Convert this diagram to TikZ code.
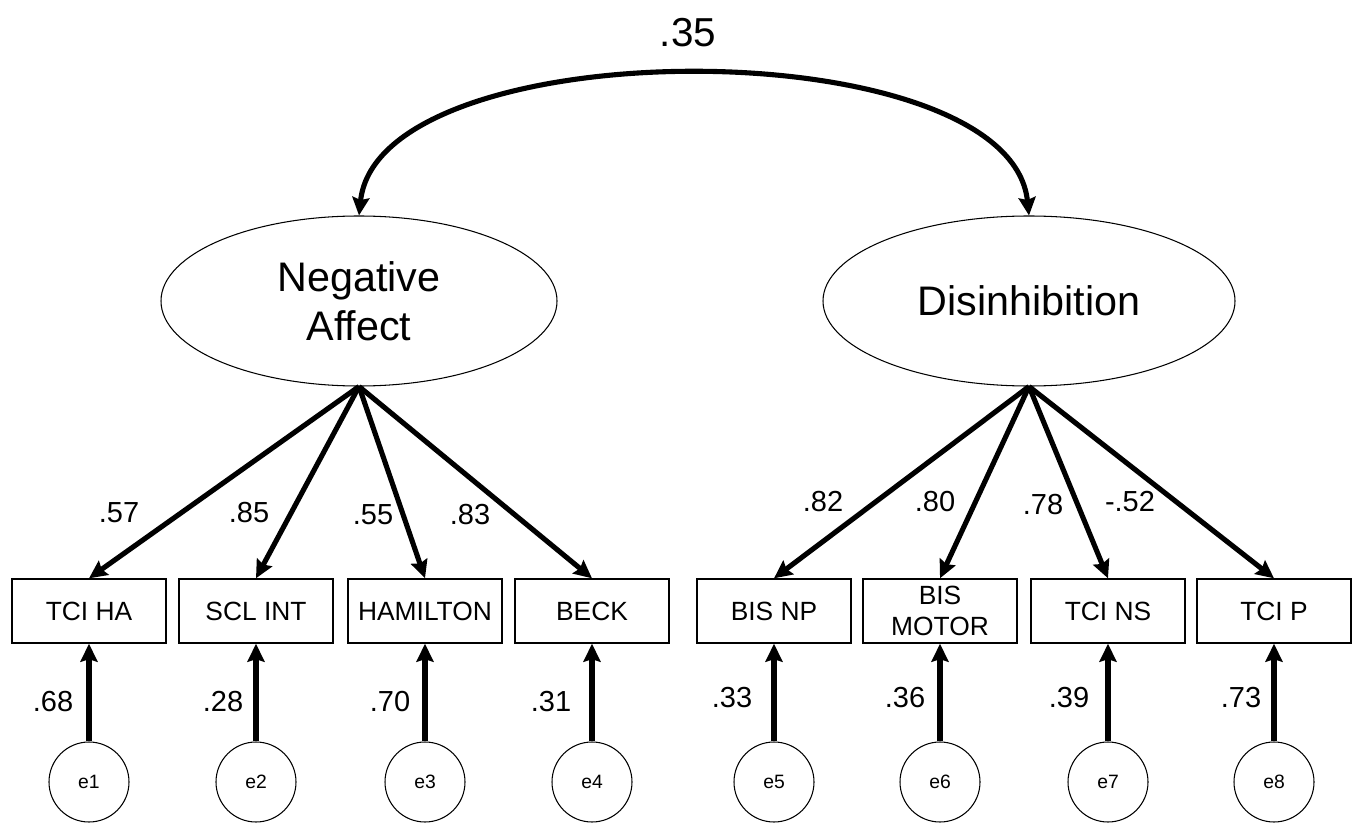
\documentclass[tikz,border=0pt]{standalone}
\usepackage{fontspec}
\setmainfont{Liberation Sans}
\usetikzlibrary{arrows.meta,shapes.geometric}

\begin{document}
\begin{tikzpicture}[>={Stealth[length=0.36cm, width=0.34cm, inset=0.05cm]},
  lat/.style={ellipse, draw, line width=0.6pt, minimum width=#1, minimum height=3.4cm, align=center, font=\fontsize{23.5}{28}\selectfont},
  obs/.style={rectangle, draw, line width=0.8pt, minimum width=3.08cm, minimum height=1.28cm, inner sep=1pt, align=center, font=\fontsize{15}{18}\selectfont},
  err/.style={circle, draw, line width=0.6pt, minimum size=1.6cm, inner sep=0pt, font=\fontsize{11}{13}\selectfont},
  load/.style={->, line width=2.9pt},
  num/.style={font=\fontsize{16.5}{19}\selectfont}]
\useasboundingbox (0,0) rectangle (27.16,16.5);
\node[lat=7.92cm] (na) at (7.18,10.48) {Negative\\Affect};
\node[lat=8.24cm] (di) at (20.58,10.48) {Disinhibition};
\draw[<->, line width=2.9pt] (na.north) .. controls +(0.4,3.75) and +(-0.4,3.75) .. (di.north);
\node[font=\fontsize{23}{27}\selectfont] (cov) at (13.76,15.84) {.35};
\foreach \i/\x/\t in {1/1.78/TCI HA, 2/5.12/SCL INT, 3/8.50/HAMILTON, 4/11.84/BECK, 5/15.48/BIS NP, 6/18.80/{BIS\\MOTOR}, 7/22.16/TCI NS, 8/25.48/TCI P} {
  \node[obs] (o\i) at (\x,4.28) {\t};
  \node[err] (e\i) at (\x,0.86) {e\i};
  \draw[load] (e\i.north) -- (o\i.south);
}
\foreach \i in {1,...,4} \draw[load] (na.south) -- (o\i.north);
\foreach \i in {5,...,8} \draw[load] (di.south) -- (o\i.north);
\foreach \x/\y/\t in {2.38/6.24/.57, 4.98/6.24/.85, 7.46/6.20/.55, 9.40/6.20/.83, 16.46/6.46/.82, 18.70/6.46/.80, 20.86/6.40/.78, 22.60/6.46/-.52} \node[num] at (\x,\y) {\t};
\foreach \x/\y/\t in {1.06/2.46/.68, 4.46/2.46/.28, 7.80/2.46/.70, 11.02/2.46/.31, 14.64/2.54/.33, 18.10/2.54/.36, 21.38/2.54/.39, 24.82/2.54/.73} \node[num] at (\x,\y) {\t};
\end{tikzpicture}
\end{document}
